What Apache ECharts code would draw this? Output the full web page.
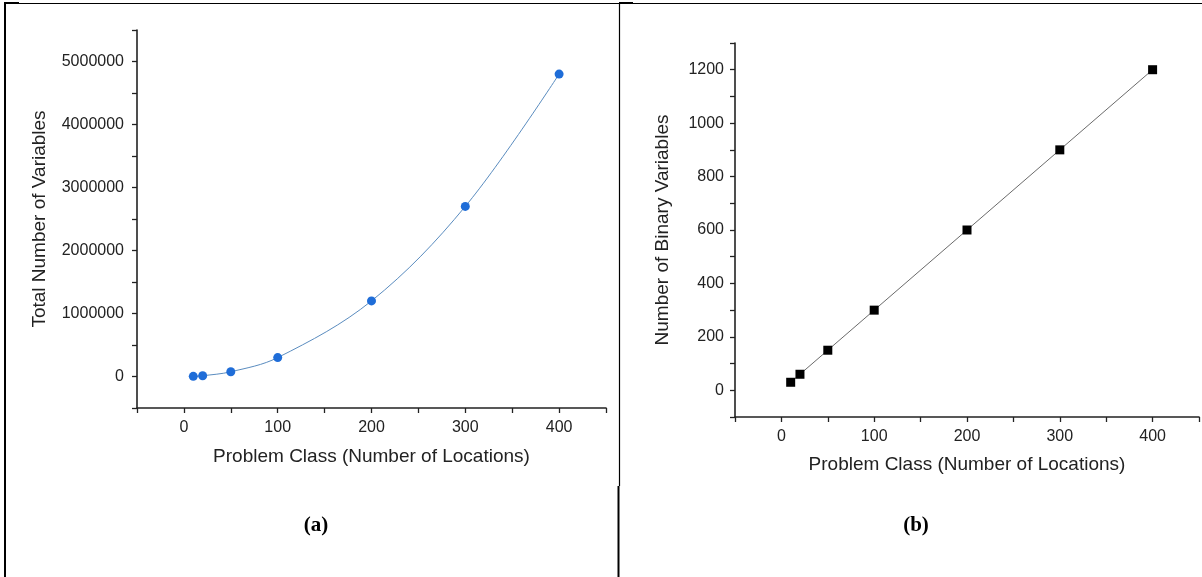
<!DOCTYPE html>
<html>
<head>
<meta charset="utf-8">
<script src="https://cdn.jsdelivr.net/npm/echarts@6/dist/echarts.min.js"></script>
<style>
html,body{margin:0;padding:0;background:#fff;}
#chart{width:1202px;height:577px;}
</style>
</head>
<body>
<div id="chart"></div>
<script>
// Data
const problemClass = [10, 20, 50, 100, 200, 300, 400];
const totalVariables = [3000, 12000, 75000, 300000, 1200000, 2700000, 4800000];
const binaryVariables = [30, 60, 150, 300, 600, 900, 1200];
const xTitle = 'Problem Class (Number of Locations)';
const yTitleA = 'Total Number of Variables';
const yTitleB = 'Number of Binary Variables';
const captions = ['(a)', '(b)'];

const FONT = '"Liberation Sans", Arial, sans-serif';
const AX = '#222';

function pairs(xs, ys) { return xs.map((x, i) => [x, ys[i]]); }

function xAxisDef(gridIndex, gap) {
  return {
    type: 'value', gridIndex, min: -50, max: 450, interval: 50,
    name: xTitle, nameLocation: 'middle', nameGap: gap,
    nameTextStyle: { fontFamily: FONT, fontSize: 19, color: AX },
    axisLine: { onZero: false, lineStyle: { color: AX, width: 1.6 } },
    axisTick: { show: true, length: 5, inside: false, lineStyle: { color: AX, width: 1.3 } },
    axisLabel: { margin: 12, fontFamily: FONT, fontSize: 16, color: AX,
      formatter: v => (v % 100 === 0 ? String(v) : '') },
    splitLine: { show: false }
  };
}
function yAxisDef(gridIndex, min, max, interval, labelStep, name, gap, margin) {
  return {
    type: 'value', gridIndex, min, max, interval,
    name, nameLocation: 'middle', nameGap: gap, nameRotate: 90,
    nameTextStyle: { fontFamily: FONT, fontSize: 19, color: AX },
    axisLine: { show: true, onZero: false, lineStyle: { color: AX, width: 1.6 } },
    axisTick: { show: true, length: 5, inside: false, lineStyle: { color: AX, width: 1.3 } },
    axisLabel: { margin, fontFamily: FONT, fontSize: 16, color: AX,
      formatter: v => (v % labelStep === 0 ? String(v) : '') },
    splitLine: { show: false }
  };
}

const chart = echarts.init(document.getElementById('chart'), null, { renderer: 'canvas' });
chart.setOption({
  backgroundColor: '#fff',
  animation: false,
  title: [
    { text: captions[0], left: 311, top: 510, textAlign: 'center',
      textStyle: { fontFamily: '"Liberation Serif", "Times New Roman", serif', fontWeight: 'bold', fontSize: 21, color: '#000' } },
    { text: captions[1], left: 911, top: 510, textAlign: 'center',
      textStyle: { fontFamily: '"Liberation Serif", "Times New Roman", serif', fontWeight: 'bold', fontSize: 21, color: '#000' } }
  ],
  grid: [
    { left: 137, top: 30, width: 469, height: 378 },
    { left: 735, top: 43, width: 467, height: 374 }
  ],
  xAxis: [xAxisDef(0, 39), xAxisDef(1, 38)],
  yAxis: [
    yAxisDef(0, -500000, 5500000, 500000, 1000000, yTitleA, 88, 13),
    yAxisDef(1, -100, 1300, 100, 200, yTitleB, 63, 11)
  ],
  series: [
    { type: 'line', xAxisIndex: 0, yAxisIndex: 0, data: pairs(problemClass, totalVariables),
      smooth: 0.35, symbol: 'circle', symbolSize: 9,
      itemStyle: { color: '#1f6dd8' }, lineStyle: { color: '#5a8cbf', width: 1 } },
    { type: 'line', xAxisIndex: 1, yAxisIndex: 1, data: pairs(problemClass, binaryVariables),
      smooth: false, symbol: 'rect', symbolSize: 9,
      itemStyle: { color: '#000' }, lineStyle: { color: '#444', width: 0.8 } }
  ],
  graphic: [
    { type: 'line', shape: { x1: 4, y1: 3.5, x2: 1202, y2: 3.5 }, style: { stroke: '#000', lineWidth: 1.2 } },
    { type: 'line', shape: { x1: 4, y1: 3, x2: 19, y2: 3 }, style: { stroke: '#000', lineWidth: 2 } },
    { type: 'line', shape: { x1: 619, y1: 3, x2: 633, y2: 3 }, style: { stroke: '#000', lineWidth: 2 } },
    { type: 'line', shape: { x1: 5, y1: 3, x2: 5, y2: 577 }, style: { stroke: '#000', lineWidth: 2 } },
    { type: 'line', shape: { x1: 619.5, y1: 3, x2: 619.5, y2: 486 }, style: { stroke: '#000', lineWidth: 1.2 } },
    { type: 'line', shape: { x1: 618.5, y1: 486, x2: 618.5, y2: 577 }, style: { stroke: '#000', lineWidth: 2 } }
  ]
});
</script>
</body>
</html>
